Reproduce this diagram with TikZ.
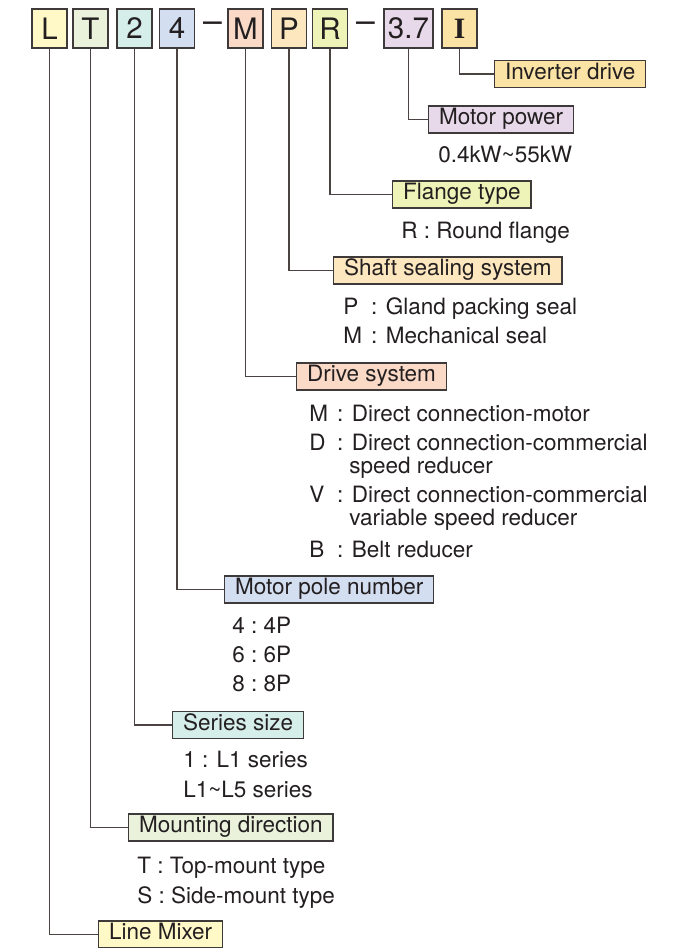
\documentclass[tikz,border=0pt]{standalone}
\usepackage{fontspec}
\setmainfont{TeX Gyre Heros}
\newfontfamily\slabfont{Liberation Serif}
\usepackage{tikz}
\definecolor{cYel}{HTML}{FFF9C8}
\definecolor{cGrn}{HTML}{EAF2DC}
\definecolor{cTeal}{HTML}{D6EEE9}
\definecolor{cBlue}{HTML}{D3DEF0}
\definecolor{cSal}{HTML}{FAD9C6}
\definecolor{cOra}{HTML}{FDE7BF}
\definecolor{cLime}{HTML}{EEF3B7}
\definecolor{cLav}{HTML}{E7D8EA}
\definecolor{cGold}{HTML}{FBE3A5}
\definecolor{frame}{HTML}{3D3A39}
\definecolor{ink}{HTML}{231F20}
\definecolor{wirecol}{HTML}{4A4341}
\newcommand{\itemkey}[1]{\makebox[1.24em][l]{#1}}

\begin{document}
\begin{tikzpicture}[x=0.025cm,y=-0.025cm,
    codebox/.style={draw=frame,line width=0.9pt,minimum width=0.875cm,minimum height=0.975cm,
        inner sep=0pt,font=\fontsize{21}{21}\selectfont,text=ink},
    namebox/.style={draw=frame,line width=0.9pt,anchor=west,minimum height=0.675cm,inner ysep=0pt,
        inner xsep=0.26cm,text height=11.5pt,text depth=3.7pt,font=\fontsize{16}{19}\selectfont,text=ink},
    desc/.style={anchor=base west,inner sep=0pt,font=\fontsize{16}{19}\selectfont,text=ink},
    wire/.style={draw=wirecol,line width=0.9pt}]
    \useasboundingbox (0,0) rectangle (687,948);
    % model code
    \foreach \n/\x/\c in {L/49.5/cYel, T/90.5/cGrn, 2/134.5/cTeal, 4/177/cBlue, M/245.5/cSal, P/289/cOra, R/330/cLime} {
        \node[codebox,fill=\c] (c\n) at (\x,28.5) {\n};
    }
    \node[codebox,fill=cLav,minimum width=1.225cm] (c37) at (408.5,28.5) {3.7};
    \node[codebox,fill=cGold] (cI) at (459.5,28.5) {\slabfont\bfseries I};
    \node[text=ink,font=\fontsize{24}{24}\selectfont] (sepA) at (212.5,28.5) {\raisebox{1.5pt}{--}};
    \node[text=ink,font=\fontsize{24}{24}\selectfont] (sepB) at (365.5,28.5) {\raisebox{1.5pt}{--}};
    % item names
    \node[namebox,fill=cGold] (nInv) at (494,74) {Inverter drive};
    \node[namebox,fill=cLav] (nPow) at (428,119.5) {Motor power};
    \node[namebox,fill=cLime] (nFl) at (392,194.5) {Flange type};
    \node[namebox,fill=cOra] (nSh) at (333,270.5) {Shaft sealing system};
    \node[namebox,fill=cSal] (nDr) at (296,376.5) {Drive system};
    \node[namebox,fill=cBlue] (nPole) at (224,589.5) {Motor pole number};
    \node[namebox,fill=cTeal] (nSer) at (172,725) {Series size};
    \node[namebox,fill=cGrn] (nMnt) at (128,827.5) {Mounting direction};
    \node[namebox,fill=cYel] (nMix) at (98,934.5) {Line Mixer};
    \foreach \a/\b in {cI/nInv, c37/nPow, cR/nFl, cP/nSh, cM/nDr, c4/nPole, c2/nSer, cT/nMnt, cL/nMix} {
        \draw[wire] (\a.south) |- (\b.west);
    }
    % choices
    \node[desc] (dPow) at (438,162) {0.4kW\textasciitilde 55kW};
    \node[desc] (dFl) at (401,238) {R : Round flange};
    \node[desc] (dShP) at (343,314) {\itemkey{P}: Gland packing seal};
    \node[desc] (dShM) at (343,343) {\itemkey{M}: Mechanical seal};
    \node[desc] (dDrM) at (309,421) {\itemkey{M}: Direct connection-motor};
    \node[desc] (dDrD) at (309,450) {\itemkey{D}: Direct connection-commercial};
    \node[desc] (dDrDb) at (349,473) {speed reducer};
    \node[desc] (dDrV) at (309,502) {\itemkey{V}: Direct connection-commercial};
    \node[desc] (dDrVb) at (349,525) {variable speed reducer};
    \node[desc] (dDrB) at (309,557) {\itemkey{B}: Belt reducer};
    \foreach \k/\y in {4/633, 6/662, 8/691} {
        \node[desc] (dPole\k) at (232,\y) {\k\ :\ \k P};
    }
    \node[desc] (dSer1) at (183,767) {1 : L1 series};
    \node[desc] (dSer2) at (183,797) {L1\textasciitilde L5 series};
    \node[desc] (dMntT) at (137,873) {T : Top-mount type};
    \node[desc] (dMntS) at (137,903) {S : Side-mount type};
\end{tikzpicture}
\end{document}
